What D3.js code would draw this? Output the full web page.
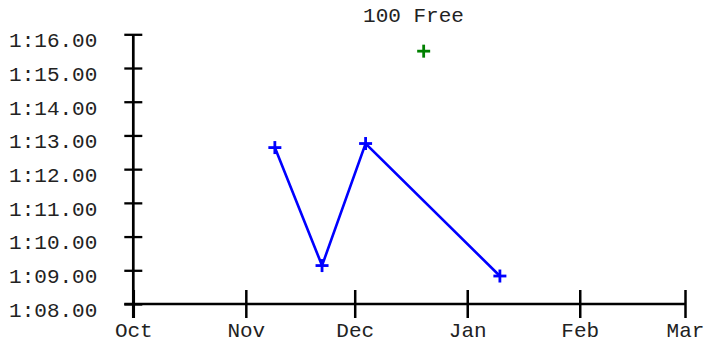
<!DOCTYPE html>
<html>
<head>
<meta charset="utf-8">
<script src="https://cdn.jsdelivr.net/npm/d3@7"></script>
<style>
  html, body { margin: 0; padding: 0; background: #fff; }
  svg { display: block; }
  text { font-family: "Courier New", "Liberation Mono", monospace; fill: #222; }
</style>
</head>
<body>
<svg id="chart" width="706" height="343"></svg>
<script>
const title = "100 Free";
const seriesDates = ["2011-11-09", "2011-11-22", "2011-12-04", "2012-01-10"];
const seriesTimes = [72.64, 69.14, 72.76, 68.83];
const bestDates = ["2011-12-20"];
const bestTimes = [75.50];
const xTickDates = ["2011-10-01", "2011-11-01", "2011-12-01", "2012-01-01", "2012-02-01", "2012-03-01"];
const xTickLabels = ["Oct", "Nov", "Dec", "Jan", "Feb", "Mar"];
const yTickValues = [68, 69, 70, 71, 72, 73, 74, 75, 76];
const yTickLabels = ["1:08.00", "1:09.00", "1:10.00", "1:11.00", "1:12.00", "1:13.00", "1:14.00", "1:15.00", "1:16.00"];

const parse = d3.timeParse("%Y-%m-%d");
const svg = d3.select("#chart");
const plotLeft = 133.3, plotRight = 685, plotTop = 34.3, plotBottom = 304;

const x = d3.scaleTime()
  .domain([parse(xTickDates[0]), parse(xTickDates[xTickDates.length - 1])])
  .range([plotLeft, plotRight]);
const y = d3.scaleLinear().domain([68, 76]).range([plotBottom, plotTop]);

const fontSize = 21;

// title
svg.append("text")
  .attr("x", 413.5).attr("y", 22.3)
  .attr("text-anchor", "middle")
  .attr("font-size", fontSize)
  .text(title);

// X axis
const xAxis = d3.axisBottom(x)
  .tickValues(xTickDates.map(parse))
  .tickFormat((d, i) => xTickLabels[i])
  .tickSizeOuter(0);
const gx = svg.append("g").attr("transform", `translate(0,${plotBottom})`).call(xAxis);
gx.select(".domain").remove();
gx.selectAll(".tick line").attr("y1", -14).attr("y2", 14).attr("stroke", "#000").attr("stroke-width", 2.5);
gx.selectAll(".tick text").attr("y", 33).attr("dy", 0)
  .attr("font-size", fontSize).attr("font-family", null).attr("fill", "#222");
svg.append("line").attr("x1", plotLeft - 9).attr("x2", plotRight).attr("y1", plotBottom).attr("y2", plotBottom)
  .attr("stroke", "#000").attr("stroke-width", 2.7);

// Y axis
const yAxis = d3.axisLeft(y)
  .tickValues(yTickValues)
  .tickFormat((d, i) => yTickLabels[i])
  .tickSizeOuter(0);
const gy = svg.append("g").attr("transform", `translate(${plotLeft},0)`).call(yAxis);
gy.select(".domain").remove();
gy.selectAll(".tick line").attr("x1", -9).attr("x2", 9).attr("stroke", "#000").attr("stroke-width", 2.3);
gy.selectAll(".tick text").attr("x", -36).attr("dy", 12.4)
  .attr("font-size", fontSize).attr("font-family", null).attr("fill", "#222");
svg.append("line").attr("x1", plotLeft).attr("x2", plotLeft).attr("y1", plotTop).attr("y2", plotBottom + 14)
  .attr("stroke", "#000").attr("stroke-width", 2.7);

// series line
const pts = seriesDates.map((d, i) => ({ date: parse(d), t: seriesTimes[i] }));
const line = d3.line().x(d => x(d.date)).y(d => y(d.t));
svg.append("path").datum(pts).attr("d", line)
  .attr("fill", "none").attr("stroke", "#0000ff").attr("stroke-width", 2.6);

function crosses(data, color) {
  const g = svg.append("g").selectAll("g").data(data).join("g")
    .attr("transform", d => `translate(${x(d.date)},${y(d.t)})`);
  g.append("line").attr("x1", -6.5).attr("x2", 6.5).attr("y1", 0).attr("y2", 0)
    .attr("stroke", color).attr("stroke-width", 2.8);
  g.append("line").attr("x1", 0).attr("x2", 0).attr("y1", -6.5).attr("y2", 6.5)
    .attr("stroke", color).attr("stroke-width", 2.8);
}
crosses(pts, "#0000ff");
crosses(bestDates.map((d, i) => ({ date: parse(d), t: bestTimes[i] })), "#008000");
</script>
</body>
</html>
